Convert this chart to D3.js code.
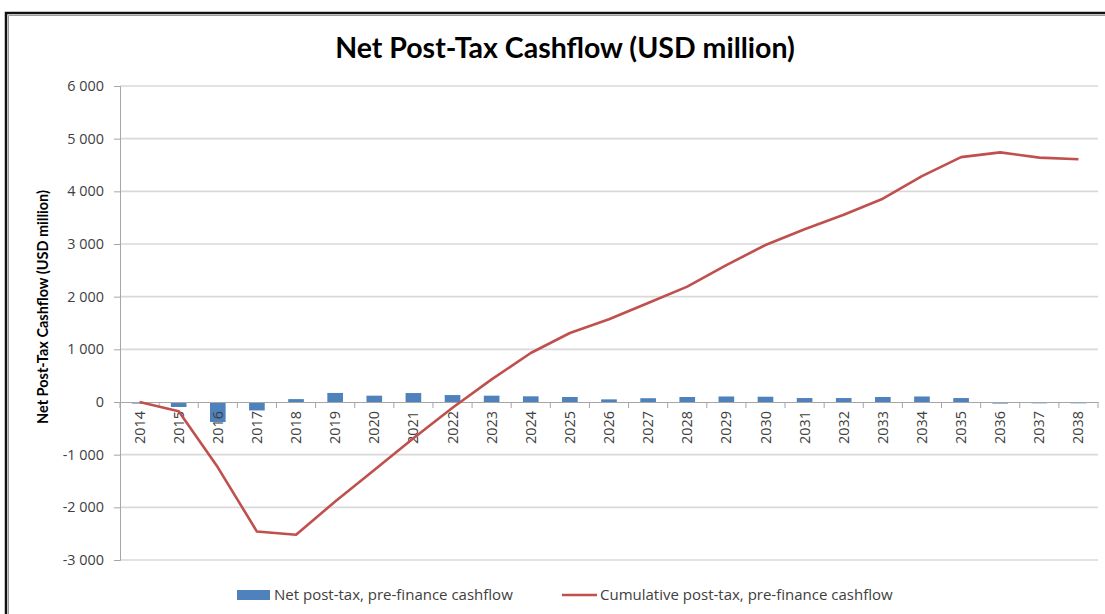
<!DOCTYPE html>
<html>
<head>
<meta charset="utf-8">
<script src="https://cdnjs.cloudflare.com/ajax/libs/d3/7.8.5/d3.min.js"></script>
<style>
  html, body { margin: 0; padding: 0; background: #ffffff; }
  svg { display: block; }
  text { font-family: Lato, "Open Sans", "Liberation Sans", sans-serif; }
</style>
</head>
<body>
<svg id="chart" width="1105" height="614"></svg>
<script>
// Years on the category axis
const years = ["2014","2015","2016","2017","2018","2019","2020","2021","2022","2023",
               "2024","2025","2026","2027","2028","2029","2030","2031","2032","2033",
               "2034","2035","2036","2037","2038"];

// Net post-tax, pre-finance cashflow per year (USD million)
const netCashflow = [-30, -95, -380, -160, 55, 172, 120, 170, 132, 120,
                     108, 95, 50, 72, 95, 105, 100, 75, 75, 95,
                     105, 75, -30, -25, -25];

// Cumulative post-tax, pre-finance cashflow (USD million)
const cumulativeCashflow = [0, -175, -1240, -2460, -2520, -1890, -1290, -690, -110, 430,
                            930, 1310, 1570, 1880, 2190, 2600, 2980, 3280, 3555, 3860,
                            4290, 4650, 4740, 4640, 4610];

// Value axis ticks
const yTicks = [-3000, -2000, -1000, 0, 1000, 2000, 3000, 4000, 5000, 6000];

const svg = d3.select("#chart");
const W = 1105, H = 614;
const plot = { left: 120, right: 1098, top: 86, bottom: 560 };
const labelFont = "'Open Sans', Lato, sans-serif";

// Chart frame
svg.append("path")
  .attr("d", `M6,${H + 5} L6,13 L${W + 5},13`)
  .attr("fill", "none")
  .attr("stroke", "#111")
  .attr("stroke-width", 2.5);
svg.append("path")
  .attr("d", `M8.5,${H + 5} L8.5,15.5 L${W + 5},15.5`)
  .attr("fill", "none")
  .attr("stroke", "#9a9a9a")
  .attr("stroke-width", 1);

const x = d3.scaleBand().domain(years).range([plot.left, plot.right]).padding(0);
const y = d3.scaleLinear().domain([-3000, 6000]).range([plot.bottom, plot.top]);

// Thousands separated by a space, e.g. "-3 000"
const fmt = v => d3.format(",")(v).replace(/,/g, " ").replace("\u2212", "-");

// Gridlines
svg.append("g")
  .selectAll("line")
  .data(yTicks.filter(t => t !== 0))
  .join("line")
  .attr("x1", plot.left)
  .attr("x2", plot.right)
  .attr("y1", d => y(d))
  .attr("y2", d => y(d))
  .attr("stroke", "#d9d9d9")
  .attr("stroke-width", 1.6);

// Value axis
const yAxis = svg.append("g")
  .attr("transform", `translate(${plot.left},0)`)
  .call(d3.axisLeft(y).tickValues(yTicks).tickSize(6).tickPadding(10).tickFormat(fmt));
yAxis.select(".domain").attr("stroke", "#a6a6a6").attr("stroke-width", 1);
yAxis.selectAll(".tick line").attr("stroke", "#a6a6a6");
yAxis.selectAll(".tick text")
  .attr("fill", "#404040")
  .style("font-size", "14.4px")
  .style("font-family", labelFont);

// Bars
const barW = x.bandwidth() / 2.5;
svg.append("g")
  .selectAll("rect")
  .data(years)
  .join("rect")
  .attr("x", (d) => x(d) + (x.bandwidth() - barW) / 2)
  .attr("width", barW)
  .attr("y", (d, i) => y(Math.max(0, netCashflow[i])))
  .attr("height", (d, i) => Math.abs(y(netCashflow[i]) - y(0)))
  .attr("fill", "#4f81bd");

// Category axis at zero
const xAxis = svg.append("g")
  .attr("transform", `translate(0,${y(0)})`)
  .call(d3.axisBottom(x).tickSize(0).tickPadding(0));
xAxis.select(".domain").attr("stroke", "#a6a6a6").attr("stroke-width", 1);
xAxis.selectAll(".tick text")
  .attr("transform", "rotate(-90)")
  .attr("x", -9)
  .attr("y", 0)
  .attr("dy", "0.35em")
  .attr("text-anchor", "end")
  .attr("fill", "#404040")
  .style("font-size", "14.4px")
  .style("font-family", labelFont);
// Tick marks between categories
svg.append("g")
  .selectAll("line")
  .data(years.concat(["end"]))
  .join("line")
  .attr("x1", (d, i) => plot.left + i * x.bandwidth())
  .attr("x2", (d, i) => plot.left + i * x.bandwidth())
  .attr("y1", y(0))
  .attr("y2", y(0) + 6)
  .attr("stroke", "#a6a6a6");

// Cumulative line
const line = d3.line()
  .x((d, i) => x(years[i]) + x.bandwidth() / 2)
  .y(d => y(d));
svg.append("path")
  .datum(cumulativeCashflow)
  .attr("d", line)
  .attr("fill", "none")
  .attr("stroke", "#c0504d")
  .attr("stroke-width", 2.6)
  .attr("stroke-linejoin", "round");

// Title
svg.append("text")
  .attr("x", 565)
  .attr("y", 58)
  .attr("text-anchor", "middle")
  .style("font-size", "28.5px")
  .style("font-weight", "bold")
  .attr("fill", "#000")
  .text("Net Post-Tax Cashflow (USD million)");

// Value axis title
svg.append("text")
  .attr("transform", `translate(48,${(plot.top + plot.bottom) / 2 - 16}) rotate(-90)`)
  .attr("text-anchor", "middle")
  .style("font-size", "14.5px")
  .style("font-weight", "bold")
  .attr("fill", "#000")
  .text("Net Post-Tax Cashflow (USD million)");

// Legend
const legend = svg.append("g");
legend.append("rect")
  .attr("x", 237).attr("y", 590).attr("width", 33).attr("height", 10)
  .attr("fill", "#4f81bd");
legend.append("text")
  .attr("x", 274).attr("y", 600)
  .attr("fill", "#404040")
  .style("font-size", "15px")
  .style("font-family", labelFont)
  .text("Net post-tax, pre-finance cashflow");
legend.append("line")
  .attr("x1", 562).attr("x2", 597).attr("y1", 595).attr("y2", 595)
  .attr("stroke", "#c0504d").attr("stroke-width", 2.6);
legend.append("text")
  .attr("x", 600).attr("y", 600)
  .attr("fill", "#404040")
  .style("font-size", "15px")
  .style("font-family", labelFont)
  .text("Cumulative post-tax, pre-finance cashflow");
</script>
</body>
</html>
